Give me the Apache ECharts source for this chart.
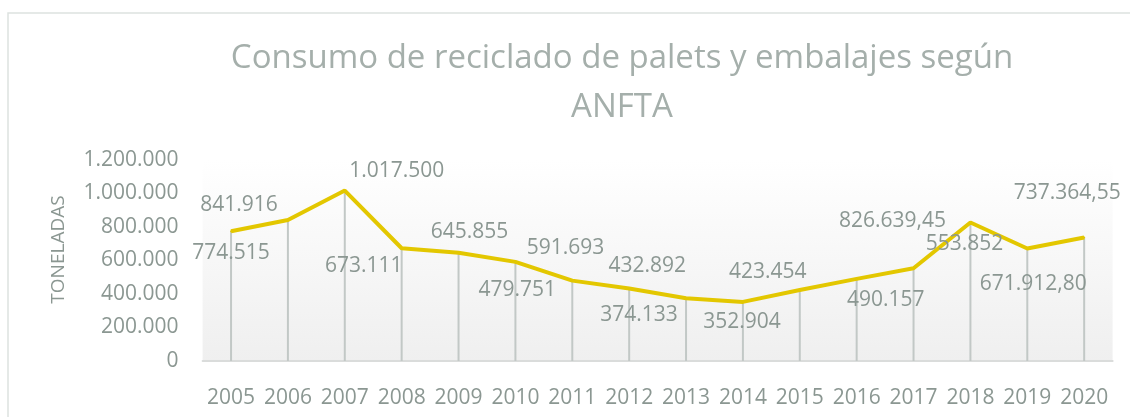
<!DOCTYPE html>
<html>
<head>
<meta charset="utf-8">
<script src="https://cdn.jsdelivr.net/npm/echarts@6/dist/echarts.min.js"></script>
<style>
  html, body { margin: 0; padding: 0; background: #fff; }
  #chart { width: 1130px; height: 417px; }
</style>
</head>
<body>
<div id="chart"></div>
<script>
// años
const years = ['2005', '2006', '2007', '2008', '2009', '2010', '2011', '2012',
  '2013', '2014', '2015', '2016', '2017', '2018', '2019', '2020'];
// toneladas
const tonnes = [774515, 841916, 1017500, 673111, 645855, 591693, 479751, 432892,
  374133, 352904, 423454, 490157, 553852, 826639.45, 671912.80, 737364.55];
const yTicks = { min: 0, max: 1200000, interval: 200000 };

// desplazamiento de cada etiqueta respecto a su punto (como en el Excel original)
const labelOffsets = [[0, 22], [-49, -15], [52, -20], [-38, 18], [11, -21], [50, -14],
  [-55, 9], [18, -22], [-47, 17], [-1, 20], [-32, -18], [29, 21], [51, -24],
  [-78, -2], [6, 36], [-17, -44]];

const textColor = '#8b9792';
const font = 'Open Sans';

// formato español: 1.017.500 / 826.639,45
function fmt(v) {
  const parts = (Math.round(v * 100) / 100).toFixed(2).split('.');
  const ent = parts[0].replace(/\B(?=(\d{3})+(?!\d))/g, '.');
  return parts[1] === '00' ? ent : ent + ',' + parts[1];
}

const chart = echarts.init(document.getElementById('chart'), null, { renderer: 'canvas' });

const option = {
  animation: false,
  graphic: [{
    type: 'rect',
    shape: { x: 8, y: 13, width: 1200, height: 500 },
    style: { fill: 'none', stroke: '#dde2e0', lineWidth: 1.5 },
    silent: true
  }],
  title: {
    text: 'Consumo de reciclado de palets y embalajes según\nANFTA',
    left: 617,
    top: 29,
    textAlign: 'center',
    textStyle: {
      fontFamily: font,
      fontWeight: 'normal',
      fontSize: 33,
      lineHeight: 49,
      color: '#a5afab'
    }
  },
  grid: {
    left: 202.6,
    right: 17.4,
    top: 160,
    bottom: 56,
    show: true,
    borderWidth: 0,
    backgroundColor: {
      type: 'linear', x: 0, y: 0, x2: 0, y2: 1,
      colorStops: [{ offset: 0, color: '#ffffff' }, { offset: 1, color: '#efefef' }]
    }
  },
  xAxis: {
    type: 'category',
    data: years,
    boundaryGap: true,
    axisTick: { show: false },
    axisLine: { lineStyle: { color: '#dadcdb', width: 2 } },
    axisLabel: { interval: 0, color: textColor, fontFamily: font, fontSize: 21, margin: 27 }
  },
  yAxis: {
    type: 'value',
    min: yTicks.min,
    max: yTicks.max,
    interval: yTicks.interval,
    name: 'TONELADAS',
    nameLocation: 'middle',
    nameRotate: 90,
    nameGap: 135,
    nameTextStyle: { color: textColor, fontFamily: font, fontSize: 19, padding: [0, 0, 0, 22] },
    axisLine: { show: false },
    axisTick: { show: false },
    splitLine: { show: false },
    axisLabel: { color: textColor, fontFamily: font, fontSize: 21, margin: 24, formatter: fmt }
  },
  series: [
    {
      // líneas de proyección
      name: 'drop',
      type: 'bar',
      data: tonnes,
      barWidth: 2,
      silent: true,
      itemStyle: { color: '#c2c8c6' },
      z: 1
    },
    {
      name: 'Toneladas',
      type: 'line',
      data: tonnes.map((v, i) => ({ value: v, label: { offset: labelOffsets[i] } })),
      symbol: 'circle',
      symbolSize: 2,
      showSymbol: true,
      itemStyle: { color: '#e3c700' },
      lineStyle: { color: '#e3c700', width: 4 },
      z: 3,
      label: {
        show: true,
        position: 'inside',
        color: textColor,
        fontFamily: font,
        fontSize: 21,
        formatter: p => fmt(p.value)
      }
    }
  ]
};

chart.setOption(option);
window.addEventListener('resize', function () { chart.resize(); });
</script>
</body>
</html>
